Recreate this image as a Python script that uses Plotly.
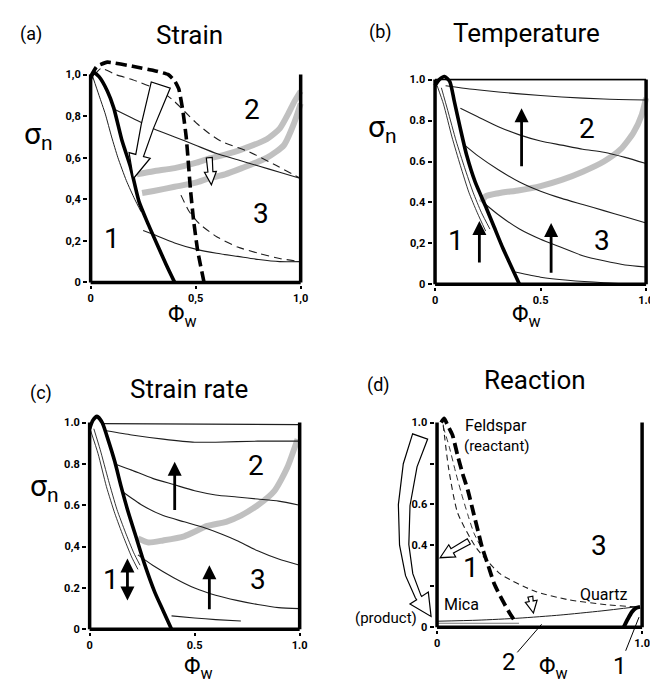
import numpy as np
import plotly.graph_objects as go

W, H = 658, 683
FONT = "Roboto, Liberation Sans, sans-serif"

# ---------------- panel (a) Strain ----------------
a_thick_x = [0.0, 0.015, 0.04, 0.08, 0.11, 0.15, 0.19, 0.23, 0.27, 0.32, 0.36, 0.40]
a_thick_y = [0.98, 1.01, 0.99, 0.92, 0.84, 0.68, 0.555, 0.39, 0.29, 0.175, 0.085, 0.0]
a_thin_x = [0.01, 0.04, 0.07, 0.10, 0.13, 0.17, 0.21, 0.24]
a_thin_y = [0.99, 0.90, 0.81, 0.70, 0.60, 0.49, 0.40, 0.34]
a_dash_thick_x = [0.0, 0.03, 0.08, 0.2, 0.3, 0.37, 0.40, 0.42, 0.44, 0.455, 0.465, 0.475, 0.49, 0.51, 0.54]
a_dash_thick_y = [0.99, 1.04, 1.06, 1.04, 1.02, 1.0, 0.97, 0.93, 0.82, 0.70, 0.58, 0.45, 0.30, 0.15, 0.0]
a_dash_up_x = [0.02, 0.05, 0.12, 0.2, 0.29, 0.35, 0.4, 0.45, 0.5, 0.56, 0.62, 0.75, 0.87, 1.0]
a_dash_up_y = [1.0, 1.03, 1.0, 0.975, 0.94, 0.91, 0.87, 0.82, 0.77, 0.72, 0.68, 0.63, 0.57, 0.5]
a_dash_lo_x = [0.43, 0.47, 0.52, 0.6, 0.7, 0.8, 0.9, 1.0]
a_dash_lo_y = [0.42, 0.34, 0.28, 0.22, 0.17, 0.14, 0.115, 0.1]
a_solA_x = [0.12, 0.2, 0.3, 0.4, 0.5, 0.6, 0.7, 0.8, 0.9, 1.0]
a_solA_y = [0.83, 0.79, 0.74, 0.70, 0.66, 0.62, 0.59, 0.56, 0.53, 0.5]
a_solB_x = [0.25, 0.3, 0.4, 0.5, 0.6, 0.7, 0.8, 0.9, 1.0]
a_solB_y = [0.25, 0.23, 0.19, 0.16, 0.14, 0.125, 0.11, 0.1, 0.1]
a_band1_x = [0.22, 0.3, 0.4, 0.5, 0.56, 0.64, 0.72, 0.84, 0.9, 0.94, 0.97, 1.0]
a_band1_y = [0.52, 0.535, 0.55, 0.575, 0.595, 0.615, 0.64, 0.69, 0.74, 0.81, 0.87, 0.92]
a_band2_x = [0.245, 0.3, 0.4, 0.5, 0.56, 0.64, 0.72, 0.84, 0.92, 0.97, 1.0]
a_band2_y = [0.43, 0.44, 0.46, 0.48, 0.50, 0.52, 0.55, 0.60, 0.66, 0.77, 0.86]

# ---------------- panel (b) Temperature ----------------
b_thick_x = [0.0, 0.02, 0.045, 0.07, 0.09, 0.12, 0.15, 0.19, 0.24, 0.28, 0.32, 0.36, 0.40]
b_thick_y = [0.97, 1.0, 1.015, 0.99, 0.90, 0.76, 0.63, 0.50, 0.38, 0.28, 0.18, 0.09, 0.0]
b_thin1_x = [0.01, 0.04, 0.08, 0.12, 0.16, 0.2, 0.24]
b_thin1_y = [0.97, 0.88, 0.72, 0.58, 0.45, 0.35, 0.26]
b_thin2_x = [0.03, 0.06, 0.10, 0.14, 0.18, 0.22, 0.26]
b_thin2_y = [0.96, 0.85, 0.70, 0.57, 0.45, 0.35, 0.27]
b_f1_x = [0.05, 1.0]
b_f1_y = [1.0, 1.0]
b_f2_x = [0.05, 0.2, 0.4, 0.6, 0.8, 1.0]
b_f2_y = [0.97, 0.95, 0.93, 0.915, 0.905, 0.90]
b_f3_x = [0.12, 0.2, 0.3, 0.4, 0.5, 0.6, 0.7, 0.8, 0.9, 1.0]
b_f3_y = [0.86, 0.82, 0.77, 0.73, 0.70, 0.68, 0.66, 0.645, 0.62, 0.59]
b_f4_x = [0.14, 0.2, 0.3, 0.4, 0.5, 0.6, 0.7, 0.8, 0.9, 1.0]
b_f4_y = [0.68, 0.63, 0.56, 0.50, 0.455, 0.42, 0.39, 0.36, 0.33, 0.30]
b_f5_x = [0.24, 0.3, 0.4, 0.5, 0.6, 0.7, 0.8, 0.9, 1.0]
b_f5_y = [0.39, 0.34, 0.27, 0.22, 0.18, 0.14, 0.115, 0.095, 0.085]
b_f6_x = [0.38, 0.5, 0.63, 0.8, 1.0]
b_f6_y = [0.06, 0.035, 0.02, 0.008, 0.0]
b_band_x = [0.22, 0.24, 0.3, 0.4, 0.5, 0.6, 0.7, 0.8, 0.88, 0.94, 0.98, 1.0]
b_band_y = [0.40, 0.43, 0.445, 0.46, 0.48, 0.51, 0.55, 0.60, 0.66, 0.74, 0.83, 0.91]

# ---------------- panel (c) Strain rate ----------------
c_thick_x = [0.0, 0.015, 0.035, 0.06, 0.09, 0.12, 0.15, 0.18, 0.22, 0.26, 0.31, 0.35, 0.39]
c_thick_y = [0.97, 1.01, 1.03, 1.0, 0.91, 0.81, 0.69, 0.58, 0.45, 0.32, 0.18, 0.09, 0.0]
c_thin1_x = [0.005, 0.04, 0.08, 0.12, 0.16, 0.2, 0.23]
c_thin1_y = [0.96, 0.85, 0.69, 0.56, 0.45, 0.35, 0.29]
c_thin2_x = [0.02, 0.05, 0.09, 0.13, 0.17, 0.21, 0.24]
c_thin2_y = [0.97, 0.87, 0.72, 0.58, 0.47, 0.37, 0.31]
c_f1_x = [0.06, 1.0]
c_f1_y = [0.995, 0.99]
c_f2_x = [0.08, 0.2, 0.35, 0.5, 0.6, 0.8, 1.0]
c_f2_y = [0.96, 0.94, 0.92, 0.905, 0.905, 0.91, 0.91]
c_f3_x = [0.12, 0.2, 0.3, 0.4, 0.5, 0.6, 0.7, 0.8, 0.9, 1.0]
c_f3_y = [0.80, 0.77, 0.73, 0.70, 0.67, 0.65, 0.64, 0.63, 0.62, 0.60]
c_f4_x = [0.15, 0.25, 0.35, 0.45, 0.55, 0.63, 0.7, 0.8, 0.9, 1.0]
c_f4_y = [0.67, 0.60, 0.55, 0.52, 0.49, 0.46, 0.43, 0.38, 0.34, 0.31]
c_f5_x = [0.23, 0.3, 0.4, 0.5, 0.6, 0.7, 0.8, 0.9, 1.0]
c_f5_y = [0.36, 0.31, 0.25, 0.20, 0.165, 0.14, 0.12, 0.105, 0.10]
c_f6_x = [0.39, 0.5, 0.6, 0.72]
c_f6_y = [0.065, 0.055, 0.047, 0.04]
c_band_x = [0.23, 0.28, 0.35, 0.45, 0.56, 0.65, 0.72, 0.8, 0.88, 0.94, 0.99]
c_band_y = [0.44, 0.42, 0.43, 0.45, 0.50, 0.52, 0.55, 0.60, 0.67, 0.78, 0.92]

# ---------------- panel (d) Reaction ----------------
d_dash_thick_x = [0.02, 0.035, 0.05, 0.075, 0.1, 0.125, 0.15, 0.18, 0.2, 0.22, 0.25, 0.28, 0.32, 0.36, 0.38]
d_dash_thick_y = [1.0, 1.02, 0.99, 0.94, 0.84, 0.75, 0.67, 0.55, 0.47, 0.39, 0.30, 0.21, 0.13, 0.06, 0.03]
d_dash1_x = [0.03, 0.056, 0.10, 0.19, 0.31, 0.48, 0.64, 0.83, 0.97]
d_dash1_y = [0.99, 0.78, 0.56, 0.39, 0.26, 0.175, 0.135, 0.11, 0.10]
d_dash2_x = [0.03, 0.06, 0.09, 0.12, 0.15, 0.18, 0.21]
d_dash2_y = [0.98, 0.88, 0.76, 0.65, 0.55, 0.46, 0.40]
d_sol_x = [0.0, 0.2, 0.4, 0.6, 0.8, 0.97]
d_sol_y = [0.03, 0.035, 0.045, 0.06, 0.08, 0.10]
d_base_x = [0.0, 0.4]
d_base_y = [0.02, 0.02]
d_thick_x = [0.91, 0.93, 0.95, 0.97, 0.99]
d_thick_y = [0.0, 0.04, 0.075, 0.095, 0.1]

# tick labels
a_yticks = [0, 0.2, 0.4, 0.6, 0.8, 1.0]
a_ytext = ["0", "0,2", "0,4", "0,6", "0,8", "1,0"]
a_xticks = [0, 0.5, 1.0]
a_xtext = ["0", "0,5", "1,0"]
b_ytext = ["0", "0,2", "0.4", "0.6", "0.8", "1.0"]
b_xtext = ["0", "0.5", "1.0"]
c_ytext = ["0", "0.2", "0,4", "0.6", "0.8", "1.0"]
c_xtext = ["0", "0.5", "1.0"]
d_yticks = [0, 0.2, 0.4, 0.6, 0.8, 1.0]
d_ytext = ["0", "", "0.4", "0.6", "", "1.0"]
d_xticks = [0, 1.0]
d_xtext = ["0", "1.0"]

GEOM = {
    'a': dict(px0=82, pxu=211, py0=276, pyu=209, xr=(-0.012, 1.03), yr=(-0.012, 1.1), ax='x', ay='y'),
    'b': dict(px0=428, pxu=212, py0=278, pyu=206, xr=(-0.012, 1.03), yr=(-0.012, 1.06), ax='x2', ay='y2'),
    'c': dict(px0=81, pxu=211, py0=625, pyu=208, xr=(-0.012, 1.03), yr=(-0.012, 1.06), ax='x3', ay='y3'),
    'd': dict(px0=430, pxu=206, py0=623, pyu=206, xr=(-0.012, 1.03), yr=(-0.012, 1.06), ax='x4', ay='y4'),
}


def to_px(p, x, y):
    g = GEOM[p]
    return g['px0'] + x * g['pxu'], g['py0'] - y * g['pyu']


def paper(px, py):
    return px / W, 1 - py / H


fig = go.Figure()


def line(p, xs, ys, width=1.2, color='black', dash=None, smooth=0.6):
    g = GEOM[p]
    fig.add_trace(go.Scatter(x=xs, y=ys, mode='lines', xaxis=g['ax'], yaxis=g['ay'],
                             line=dict(width=width, color=color, dash=dash, shape='spline', smoothing=smooth),
                             hoverinfo='skip', showlegend=False))


BAND = 'rgba(150,150,150,0.6)'
THIN = 'rgb(30,30,30)'
# panel a
line('a', a_band1_x, a_band1_y, 6, BAND)
line('a', a_band2_x, a_band2_y, 6, BAND)
line('a', a_thin_x, a_thin_y, 1.0, THIN)
line('a', a_solA_x, a_solA_y, 1.1, THIN)
line('a', a_solB_x, a_solB_y, 1.1, THIN)
line('a', a_dash_up_x, a_dash_up_y, 1.1, THIN, dash='8px,5px')
line('a', a_dash_lo_x, a_dash_lo_y, 1.1, THIN, dash='8px,5px')
line('a', a_thick_x, a_thick_y, 3.6)
line('a', a_dash_thick_x, a_dash_thick_y, 3.6, dash='11px,5px', smooth=0.4)
# panel b
line('b', b_band_x, b_band_y, 6, BAND)
for xs, ys in [(b_f1_x, b_f1_y), (b_f2_x, b_f2_y), (b_f3_x, b_f3_y), (b_f4_x, b_f4_y), (b_f5_x, b_f5_y), (b_f6_x, b_f6_y)]:
    line('b', xs, ys, 1.1, THIN)
line('b', b_thin1_x, b_thin1_y, 0.9, THIN)
line('b', b_thin2_x, b_thin2_y, 0.9, THIN)
line('b', b_thick_x, b_thick_y, 3.6)
# panel c
line('c', c_band_x, c_band_y, 6, BAND)
for xs, ys in [(c_f1_x, c_f1_y), (c_f2_x, c_f2_y), (c_f3_x, c_f3_y), (c_f4_x, c_f4_y), (c_f5_x, c_f5_y), (c_f6_x, c_f6_y)]:
    line('c', xs, ys, 1.1, THIN)
line('c', c_thin1_x, c_thin1_y, 0.9, THIN)
line('c', c_thin2_x, c_thin2_y, 0.9, THIN)
line('c', c_thick_x, c_thick_y, 3.6)
# panel d
line('d', d_base_x, d_base_y, 1.0, 'rgb(120,120,120)')
line('d', d_sol_x, d_sol_y, 1.0, THIN)
line('d', d_dash1_x, d_dash1_y, 1.1, THIN, dash='6px,4px')
line('d', d_dash2_x, d_dash2_y, 0.9, THIN, dash='6px,4px')
line('d', d_dash_thick_x, d_dash_thick_y, 3.8, dash='11px,5px')
line('d', d_thick_x, d_thick_y, 4.0)

# axes
layout = dict(width=W, height=H, margin=dict(l=0, r=0, t=0, b=0),
              paper_bgcolor='white', plot_bgcolor='white', showlegend=False,
              font=dict(family=FONT, color='black'))
ticksets = {'a': (a_xticks, a_xtext, a_yticks, a_ytext),
            'b': (a_xticks, b_xtext, a_yticks, b_ytext),
            'c': (a_xticks, c_xtext, a_yticks, c_ytext),
            'd': (d_xticks, d_xtext, d_yticks, d_ytext)}
shapes = []
for i, p in enumerate(['a', 'b', 'c', 'd']):
    g = GEOM[p]
    xd = [(g['px0'] + g['xr'][0] * g['pxu']) / W, (g['px0'] + g['xr'][1] * g['pxu']) / W]
    yd = [1 - (g['py0'] - g['yr'][0] * g['pyu']) / H, 1 - (g['py0'] - g['yr'][1] * g['pyu']) / H]
    sfx = '' if i == 0 else str(i + 1)
    xt, xtt, yt, ytt = ticksets[p]
    layout['xaxis' + sfx] = dict(domain=xd, range=list(g['xr']), anchor=g['ay'], showgrid=False, zeroline=False,
                                 tickvals=xt, ticktext=xtt, ticks='outside', ticklen=3, tickwidth=1.5,
                                 tickcolor='black', tickfont=dict(size=11, family=FONT, weight='bold'),
                                 showline=False, fixedrange=True)
    layout['yaxis' + sfx] = dict(domain=yd, range=list(g['yr']), anchor=g['ax'], showgrid=False, zeroline=False,
                                 tickvals=yt, ticktext=ytt, ticks='outside', ticklen=4, tickwidth=1.5,
                                 tickcolor='black', tickfont=dict(size=11, family=FONT, weight='bold'),
                                 showline=False, fixedrange=True)
    # frame: left, bottom, right
    for (x0, y0, x1, y1) in [(0, 0, 0, 1.0), (0, 0, 1.0, 0), (1.0, 0, 1.0, 1.0)]:
        shapes.append(dict(type='line', xref=g['ax'], yref=g['ay'], x0=x0, y0=y0, x1=x1, y1=y1,
                           line=dict(color='black', width=3.5)))
# top line in panel b at 1.0
shapes.append(dict(type='line', xref='x2', yref='y2', x0=0, y0=1.0, x1=1.0, y1=1.0,
                   line=dict(color='black', width=1.5)))


def hollow_arrow(pts_px, w0, w1, head_w, head_len, lw=1.2):
    pts = np.array(pts_px, float)
    tip = pts[-1]
    d = tip - pts[-2]
    d /= np.linalg.norm(d)
    base = tip - d * head_len
    center = np.vstack([pts[:-1], base])
    tang = np.gradient(center, axis=0)
    tang /= np.linalg.norm(tang, axis=1)[:, None]
    normal = np.stack([-tang[:, 1], tang[:, 0]], 1)
    seg = np.r_[0, np.cumsum(np.linalg.norm(np.diff(center, axis=0), axis=1))]
    t = seg / seg[-1]
    w = w0 + (w1 - w0) * t
    left = center + normal * (w / 2)[:, None]
    right = center - normal * (w / 2)[:, None]
    nd = np.array([-d[1], d[0]])
    poly = list(left) + [base + nd * head_w / 2, tip, base - nd * head_w / 2] + list(right[::-1])
    path = 'M ' + ' L '.join('%.5f,%.5f' % paper(x, y) for x, y in poly) + ' Z'
    return dict(type='path', path=path, xref='paper', yref='paper',
                line=dict(color='black', width=lw), fillcolor='white')


# hollow arrows
shapes.append(hollow_arrow([to_px('a', 0.334, 0.95), to_px('a', 0.27, 0.75), to_px('a', 0.204, 0.50)],
                           20, 8, 22, 24))
shapes.append(hollow_arrow([to_px('a', 0.565, 0.60), to_px('a', 0.575, 0.47)], 6, 5, 12, 13))
shapes.append(hollow_arrow([(413, 431), (403, 460), (397, 500), (397, 540), (402, 570), (411, 592), (424, 612)],
                           16, 6, 22, 22))
shapes.append(hollow_arrow([to_px('d', 0.155, 0.42), to_px('d', 0.015, 0.34)], 6, 5, 14, 14))
shapes.append(hollow_arrow([to_px('d', 0.455, 0.15), to_px('d', 0.47, 0.07)], 5, 4, 12, 12))
layout['shapes'] = shapes

ann = []


def txt(px, py, s, size, xanchor='center', yanchor='middle'):
    x, y = paper(px, py)
    ann.append(dict(x=x, y=y, xref='paper', yref='paper', text=s, showarrow=False,
                    font=dict(size=size, family=FONT, color='black'), xanchor=xanchor, yanchor=yanchor))


def dtxt(p, x, y, s, size, xanchor='center'):
    g = GEOM[p]
    ann.append(dict(x=x, y=y, xref=g['ax'], yref=g['ay'], text=s, showarrow=False,
                    font=dict(size=size, family=FONT, color='black'), xanchor=xanchor, yanchor='middle'))


def arrow(p, x0, y0, x1, y1, both=False):
    g = GEOM[p]
    ann.append(dict(x=x1, y=y1, ax=x0, ay=y0, xref=g['ax'], yref=g['ay'], axref=g['ax'], ayref=g['ay'],
                    text='', showarrow=True, arrowhead=2, arrowsize=1.0, arrowwidth=2.8, arrowcolor='black',
                    arrowside='end+start' if both else 'end', startarrowhead=2, startarrowsize=1.0))


# titles
txt(22, 26, '(a)', 18)
txt(181, 27, 'Strain', 26)
txt(373, 24, '(b)', 18)
txt(520, 25, 'Temperature', 26)
txt(32, 387, '(c)', 18)
txt(181, 383, 'Strain rate', 26)
txt(371, 379, '(d)', 18)
txt(528, 374, 'Reaction', 26)
# axis labels
for (px, py) in [(30, 128), (375, 121), (36, 482)]:
    txt(px, py, 'σ<sub>n</sub>', 30)
for (px, py) in [(174, 310), (520, 310), (190, 664), (547, 664)]:
    txt(px, py, 'Φ<sub>w</sub>', 23)
# (product) label at the left of panel d (outside the axis range)
txt(*to_px('d', -0.09, 0.045), '(product)', 15, xanchor='right')

# region numbers
dtxt('a', 0.10, 0.21, '1', 28); dtxt('a', 0.77, 0.83, '2', 28); dtxt('a', 0.81, 0.33, '3', 28)
dtxt('b', 0.10, 0.215, '1', 28); dtxt('b', 0.72, 0.76, '2', 28); dtxt('b', 0.79, 0.215, '3', 28)
dtxt('c', 0.10, 0.24, '1', 28); dtxt('c', 0.79, 0.79, '2', 28); dtxt('c', 0.80, 0.24, '3', 28)
dtxt('d', 0.165, 0.29, '1', 28); dtxt('d', 0.79, 0.40, '3', 28)
dtxt('d', 0.125, 0.985, 'Feldspar', 16, 'left')
dtxt('d', 0.12, 0.885, '(reactant)', 15, 'left')
dtxt('d', 0.815, 0.16, 'Quartz', 16)
dtxt('d', 0.12, 0.11, 'Mica', 16)

# leader lines in d
for s, x, y, ax_, ay_ in [('2', 0.51, 0.015, 0.35, -0.17), ('1', 0.985, 0.05, 0.89, -0.19)]:
    ann.append(dict(x=x, y=y, ax=ax_, ay=ay_, xref='x4', yref='y4', axref='x4', ayref='y4', text=s,
                    showarrow=True, arrowhead=0, arrowwidth=1, arrowcolor='black',
                    font=dict(size=24, family=FONT, color='black')))

# solid arrows
arrow('b', 0.41, 0.57, 0.41, 0.86)
arrow('b', 0.21, 0.10, 0.21, 0.31)
arrow('b', 0.55, 0.05, 0.55, 0.30)
arrow('c', 0.405, 0.57, 0.405, 0.81)
arrow('c', 0.18, 0.35, 0.18, 0.14, both=True)
arrow('c', 0.57, 0.09, 0.57, 0.31)

layout['annotations'] = ann
fig.update_layout(**layout)
fig.write_html('out.html')
